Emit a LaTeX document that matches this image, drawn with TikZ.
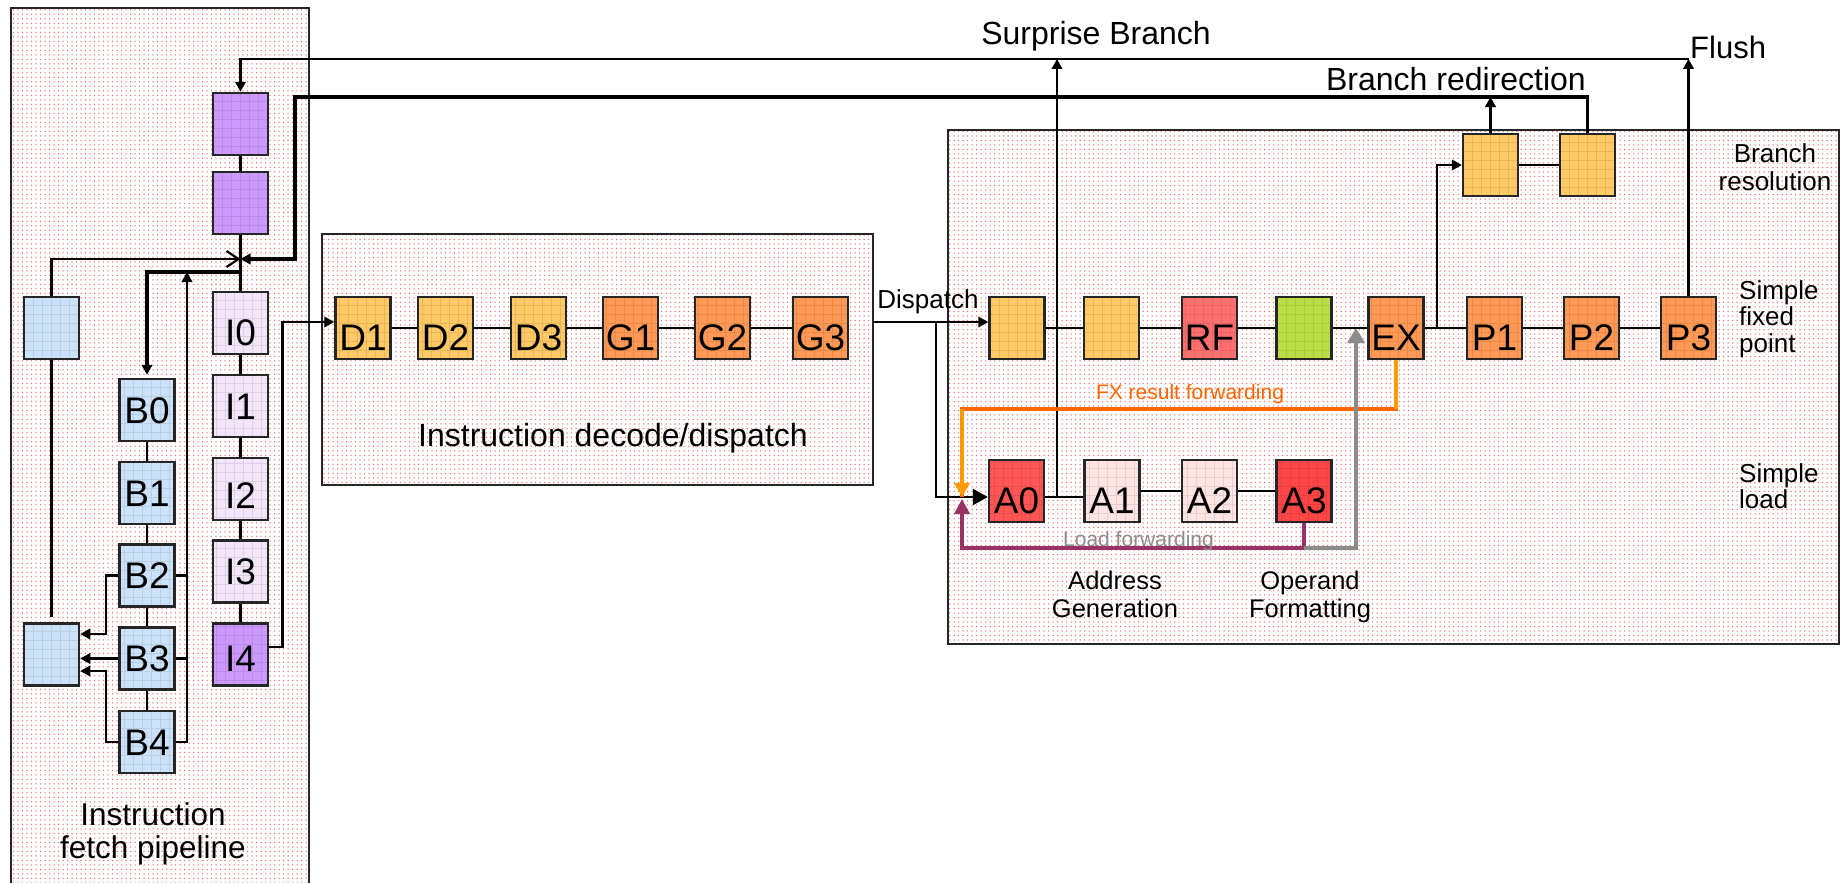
\documentclass[tikz,border=0pt]{standalone}
\usepackage{fontspec}
\setmainfont{Liberation Sans}
\usetikzlibrary{arrows.meta,patterns.meta}

\definecolor{cPurple}{HTML}{CC99FF}
\definecolor{cLav}{HTML}{F3E6FB}
\definecolor{cBlue}{HTML}{CCE2FA}
\definecolor{cLOr}{HTML}{FFC966}
\definecolor{cOr}{HTML}{FF9955}
\definecolor{cRF}{HTML}{FF6F6F}
\definecolor{cGreen}{HTML}{BBDD44}
\definecolor{cRed}{HTML}{FF5555}
\definecolor{cRedB}{HTML}{FF4646}
\definecolor{cPink}{HTML}{FFE4E4}
\definecolor{fxOr}{HTML}{FF6600}
\definecolor{fxYl}{HTML}{FF9900}
\definecolor{ldPur}{HTML}{993366}
\definecolor{ldGray}{HTML}{8C8C8C}
\definecolor{dotRed}{HTML}{F07070}

\tikzset{
  stage/.style={draw=black!85, line width=2.5pt, fill=#1,
    minimum width=55pt, minimum height=62pt, inner sep=0pt,
    font=\fontsize{37}{42}\selectfont, text height=26.5pt, text depth=0pt,
    path picture={\draw[#1!70!black, opacity=.3, line width=.6pt]
      (path picture bounding box.south west) grid[step=9pt]
      (path picture bounding box.north east);}},
  lo/.style={text height=44.5pt},
  region/.style={draw=black!85, line width=2pt, inner sep=0pt,
    pattern={Dots[distance=4.5pt,radius=.75pt]}, pattern color=dotRed},
  conn/.style={line width=2.2pt},
  thickconn/.style={line width=3.3pt},
  tri/.tip={Triangle[length=10pt,width=10.5pt]},
  bigtri/.tip={Triangle[length=15pt,width=16pt]},
  barb/.tip={Straight Barb[length=12pt,width=16pt,line width=2.2pt]},
  txt/.style={inner sep=0pt},
}

\begin{document}
\begin{tikzpicture}[x=1pt,y=-1pt]
\clip (0,0) rectangle (1841,883);

% regions
\node[region, minimum width=298pt, minimum height=892pt] (fet) at (160,454) {};
\node[region, minimum width=551pt, minimum height=251pt] (dec) at (597.5,359.5) {};
\node[region, minimum width=891pt, minimum height=514pt] (exe) at (1393.5,386.5) {};

% helper coordinates
\coordinate (jn) at (240.5,259);
\coordinate (bsplit) at (240.5,272);
\coordinate (bup) at (187,272);
\coordinate (sbtop) at (1057,59);
\coordinate (sbbot) at (1057,497);
\coordinate (dsp) at (873,322);
\coordinate (dsplit) at (936,322);
\coordinate (exsplit) at (1437,328);
\coordinate (brl) at (1490.5,97);
\coordinate (fxa) at (1396,409);
\coordinate (fxb) at (962,409);
\coordinate (fxc) at (962,497);
\coordinate (ldb) at (962,548);
\coordinate (ldc) at (962,499);
\coordinate (gx) at (1356,548);
\coordinate (gtop) at (1356,328);

% stages: fetch
\node[stage=cPurple] (pb1) at (240.5,124) {};
\node[stage=cPurple] (pb2) at (240.5,203) {};
\node[stage=cBlue] (ub) at (51.5,328) {};
\node[stage=cBlue] (lb) at (51.5,654.5) {};
\node[stage=cBlue] (B0) at (147,410) {B0};
\node[stage=cBlue] (B1) at (147,493) {B1};
\node[stage=cBlue] (B2) at (147,575.5) {B2};
\node[stage=cBlue] (B3) at (147,658.5) {B3};
\node[stage=cBlue] (B4) at (147,742) {B4};
\node[stage=cLav, lo] (I0) at (240.5,323) {I0};
\node[stage=cLav] (I1) at (240.5,406) {I1};
\node[stage=cLav, text height=38.5pt] (I2) at (240.5,489) {I2};
\node[stage=cLav] (I3) at (240.5,571.5) {I3};
\node[stage=cPurple, text height=34.5pt] (I4) at (240.5,654.5) {I4};

% stages: decode
\node[stage=cLOr, lo] (D1) at (363,328) {D1};
\node[stage=cLOr, lo] (D2) at (445.5,328) {D2};
\node[stage=cLOr, lo] (D3) at (538.5,328) {D3};
\node[stage=cOr, lo] (G1) at (630.5,328) {G1};
\node[stage=cOr, lo] (G2) at (722.5,328) {G2};
\node[stage=cOr, lo] (G3) at (820.5,328) {G3};

% stages: execution
\node[stage=cLOr] (e1) at (1017,328) {};
\node[stage=cLOr] (e2) at (1111.5,328) {};
\node[stage=cRF, lo] (RF) at (1209.5,328) {RF};
\node[stage=cGreen] (GR) at (1304,328) {};
\node[stage=cOr, lo] (EX) at (1396,328) {EX};
\node[stage=cOr, lo] (P1) at (1494.5,328) {P1};
\node[stage=cOr, lo] (P2) at (1591.5,328) {P2};
\node[stage=cOr, lo] (P3) at (1688.5,328) {P3};
\node[stage=cLOr] (br1) at (1490.5,165) {};
\node[stage=cLOr] (br2) at (1587.5,165) {};
\node[stage=cRed, lo] (A0) at (1016.5,491) {A0};
\node[stage=cPink, lo] (A1) at (1112,491) {A1};
\node[stage=cPink, lo] (A2) at (1209.5,491) {A2};
\node[stage=cRedB, lo] (A3) at (1304,491) {A3};

% fetch connectors
\draw[conn] (pb1) -- (pb2);
\draw[conn] (pb2.south) -- (I0.north);
\draw[conn] (I0) -- (I1);
\draw[conn] (I1) -- (I2);
\draw[conn] (I2) -- (I3);
\draw[conn] (I3) -- (I4);
\draw[conn] (B0) -- (B1);
\draw[conn] (B1) -- (B2);
\draw[conn] (B2) -- (B3);
\draw[conn] (B3) -- (B4);
\draw[conn, -{barb}] (ub.north) |- (jn);
\draw[conn, shorten >=5pt] (ub.south) -- (lb.north);
\draw[thickconn, -{tri}, shorten >=3pt] (bsplit) -| (B0.north);
\draw[conn, -{tri}] (B4.east) -| (bup);
\draw[conn] (B3.east) -- (B3.east -| bup);
\draw[conn] (B2.east) -- (B2.east -| bup);
\draw[conn, -{tri}] (B2.west) -| (106,634) -- ([yshift=20.5pt]lb.east);
\draw[conn, -{tri}] (B3.west) -- (B3.west -| lb.east);
\draw[conn, -{tri}] (B4.west) -| (106,671) -- ([yshift=-16.5pt]lb.east);
\draw[conn, -{tri}] ([yshift=7.5pt]I4.east) -| (282.5,322) -- ([yshift=6pt]D1.west);

% decode connectors
\draw[conn] (D1) -- (D2);
\draw[conn] (D2) -- (D3);
\draw[conn] (D3) -- (G1);
\draw[conn] (G1) -- (G2);
\draw[conn] (G2) -- (G3);

% dispatch
\draw[conn, -{tri}] (dsp) -- ([yshift=6pt]e1.west);
\draw[conn, -{bigtri}] (dsplit) |- ([yshift=-6pt]A0.west);

% execution connectors
\draw[conn] (e1) -- (e2);
\draw[conn] (e2) -- (RF);
\draw[conn] (RF) -- (GR);
\draw[conn] (GR) -- (EX);
\draw[conn] (EX) -- (P1);
\draw[conn] (P1) -- (P2);
\draw[conn] (P2) -- (P3);
\draw[conn] ([yshift=-6pt]A0.east) -- ([yshift=-6pt]A1.west);
\draw[conn] (A1) -- (A2);
\draw[conn] (A2) -- (A3);
\draw[conn] (br1) -- (br2);
\draw[conn, -{tri}] (exsplit) |- (br1.west);

% surprise branch, flush, branch redirection
\draw[conn, -{tri}] (sbbot) -- (sbtop);
\draw[conn, -{tri}] (P3.north) -- (P3.north |- sbtop);
\draw[conn, -{tri}] (P3.north |- sbtop) -| (pb1.north);
\draw[conn, -{tri}] (br1.north) -- (brl);
\draw[thickconn, -{tri}] (br2.north) |- (295,97) |- (jn);

% FX result forwarding
\draw[fxOr, line width=4pt] (EX.south) |- (fxb) -- (fxc);
\draw[fxYl, line width=4pt] (EX.south) -- (fxa);
\draw[fxYl, line width=4pt, -{Triangle[length=14pt,width=15pt]}] (fxb) -- (fxc);

% load forwarding
\draw[ldPur, line width=4pt, -{Triangle[length=15pt,width=15pt]}] (A3.south) |- (ldb) -- (ldc);
\draw[ldGray, line width=4pt, -{Triangle[length=15pt,width=17pt]}] (A3.south |- gx) -- (gx) -- (gtop);

% texts
\node[txt, font=\fontsize{32}{36}\selectfont, anchor=base] (tsb) at (1096,45) {Surprise Branch};
\node[txt, font=\fontsize{31}{36}\selectfont, anchor=base west] (tfl) at (1690,59) {Flush};
\node[txt, font=\fontsize{32}{36}\selectfont, anchor=base east] (tbr) at (1586,90) {Branch redirection};
\node[txt, font=\fontsize{26}{30}\selectfont, anchor=base] (tdp) at (928,308) {Dispatch};
\node[txt, font=\fontsize{32}{36}\selectfont, anchor=base] (tdec) at (613,446) {Instruction decode/dispatch};
\node[txt, font=\fontsize{31.5}{33}\selectfont, align=center, anchor=north] (tfet) at (153,802.5) {Instruction\\fetch pipeline};
\node[txt, font=\fontsize{21}{24}\selectfont, text=fxOr, anchor=base] (tfx) at (1190,399) {FX result forwarding};
\node[txt, font=\fontsize{21}{24}\selectfont, text=ldGray, anchor=base west] (tld) at (1063,546) {Load forwarding};
\node[txt, font=\fontsize{25.5}{28}\selectfont, align=center, anchor=north] (tag) at (1115,571) {Address\\Generation};
\node[txt, font=\fontsize{25.5}{28}\selectfont, align=center, anchor=north] (tof) at (1310,571) {Operand\\Formatting};
\node[txt, font=\fontsize{26}{27.5}\selectfont, align=center, anchor=north] (tbres) at (1775,143.5) {Branch\\resolution};
\node[txt, font=\fontsize{26}{26.5}\selectfont, align=left, anchor=north west] (tsfp) at (1739,280) {Simple\\fixed\\point};
\node[txt, font=\fontsize{26}{26.5}\selectfont, align=left, anchor=north west] (tsl) at (1739,463) {Simple\\load};
\end{tikzpicture}
\end{document}
